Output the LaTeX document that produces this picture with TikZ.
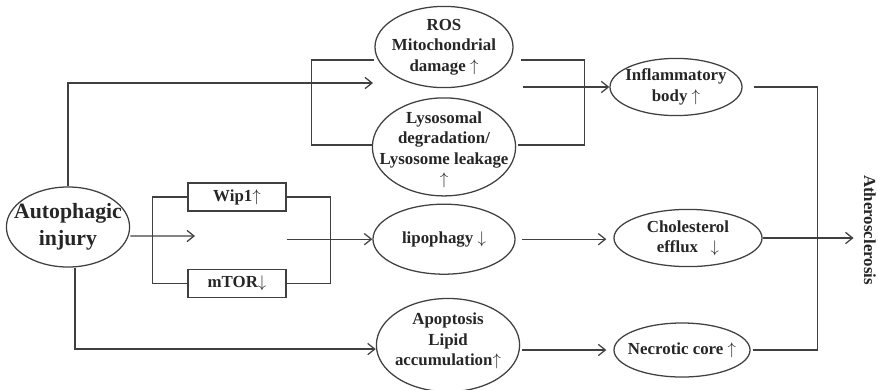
\documentclass[tikz,border=0pt]{standalone}
\usepackage{fontspec}
\setmainfont{Liberation Serif}
\usetikzlibrary{positioning, shapes.geometric, arrows.meta}

\begin{document}
\begin{tikzpicture}[x=0.025cm, y=-0.025cm,
                    >={Straight Barb[length=5pt, width=8pt]},
                    ovalnode/.style={ellipse, draw=black!75, line width=0.9pt, inner sep=0pt},
                    ovaltext/.style={align=center, inner sep=0pt, text=black!85, font=\fontsize{12}{14.5}\selectfont\bfseries},
                    boxnode/.style={rectangle, draw=black!75, line width=0.9pt, minimum width=2.45cm, minimum height=0.7cm, inner sep=0pt, text=black!85, font=\fontsize{12}{14.5}\selectfont\bfseries},
                    conn/.style={draw=black!75, line width=0.9pt},
                ]
                    \useasboundingbox (0,0) rectangle (878,389);

                    %Nodes
                    \node[ovalnode, minimum width=3.08cm, minimum height=2.0cm](auto) at (68,227) {};
                    \node[ovaltext, font=\fontsize{15.5}{19}\selectfont\bfseries](autotxt) at (auto) {Autophagic\\injury};

                    \node[ovalnode, minimum width=3.45cm, minimum height=2.03cm](ros) at (444,47) {};
                    \node[ovaltext](rostxt) at (ros) {ROS\\Mitochondrial\\damage $\uparrow$};
                    \node[ovalnode, minimum width=3.58cm, minimum height=2.45cm](lyso)[below=0.225cm of ros] {};
                    \node[ovaltext](lysotxt) at ([yshift=-0.075cm]lyso) {Lysosomal\\degradation/\\Lysosome leakage\\$\uparrow$};
                    \node[ovalnode, minimum width=3.55cm, minimum height=1.75cm](lipo)[below=0.175cm of lyso] {};
                    \node[ovaltext](lipotxt) at (lipo) {lipophagy $\downarrow$};
                    \node[ovalnode, minimum width=3.58cm, minimum height=2.33cm](apop)[below=0.575cm of lipo, xshift=0.1cm] {};
                    \node[ovaltext](apoptxt) at ([yshift=0.1cm]apop) {Apoptosis\\Lipid\\accumulation$\uparrow$};

                    \node[boxnode](wip) at (237,197) {Wip1$\uparrow$};
                    \node[boxnode](mtor)[below=1.425cm of wip] {mTOR$\downarrow$};

                    \node[ovalnode, minimum width=3.3cm, minimum height=1.43cm](infl) at (676,87) {};
                    \node[ovaltext](infltxt) at (infl) {Inflammatory\\body $\uparrow$};
                    \node[ovalnode, minimum width=3.7cm, minimum height=1.43cm](chol) at (688,238) {};
                    \node[ovaltext](choltxt) at (chol) {Cholesterol\\efflux \ \ $\downarrow$};
                    \node[ovalnode, minimum width=3.4cm, minimum height=1.35cm](necro) at (682,350) {};
                    \node[ovaltext](necrotxt) at (necro) {Necrotic core $\uparrow$};

                    \node[ovaltext, rotate=-90, inner sep=3pt](athero) at (870,230) {Atherosclerosis};

                    \coordinate (rosin) at (373,83);
                    \coordinate (inflin) at (523,87);
                    \coordinate (pathin) at (195,236);

                    %Lines
                    \draw[conn, ->](auto.north) |- (rosin);
                    \draw[conn]([yshift=-0.325cm]ros.west) -- ++(-63,0) |- ([yshift=0.05cm]lyso.west);
                    \draw[conn]([xshift=0.175cm, yshift=-0.325cm]ros.east) -- ++(64,0) |- ([xshift=0.05cm, yshift=0.05cm]lyso.east);
                    \draw[conn, ->](inflin) -- (infl.west);

                    \draw[conn, ->]([yshift=-0.225cm]auto.east) -- (pathin);
                    \draw[conn](wip.west) -- ++(-35,0) |- (mtor.west);
                    \draw[conn](wip.east) -- ++(44,0) |- (mtor.east);
                    \draw[conn, ->](wip.east |- lipo.west) -- (lipo.west);
                    \draw[conn, ->, shorten <=0.15cm, shorten >=0.175cm](lipo.east) -- (lipo.east -| chol.west);

                    \draw[conn, ->]([xshift=0.175cm]auto.south) |- ([yshift=-0.1cm]apop.west);
                    \draw[conn, ->, shorten <=0.05cm, shorten >=0.175cm](apop.east |- necro.west) -- (necro.west);

                    \draw[conn]([xshift=0.275cm]infl.east) -- ++(64,0) |- ([xshift=0.05cm]necro.east);
                    \draw[conn, ->, shorten >=0.15cm](chol.east) -- (chol.east -| athero.south);
                \end{tikzpicture}
\end{document}
